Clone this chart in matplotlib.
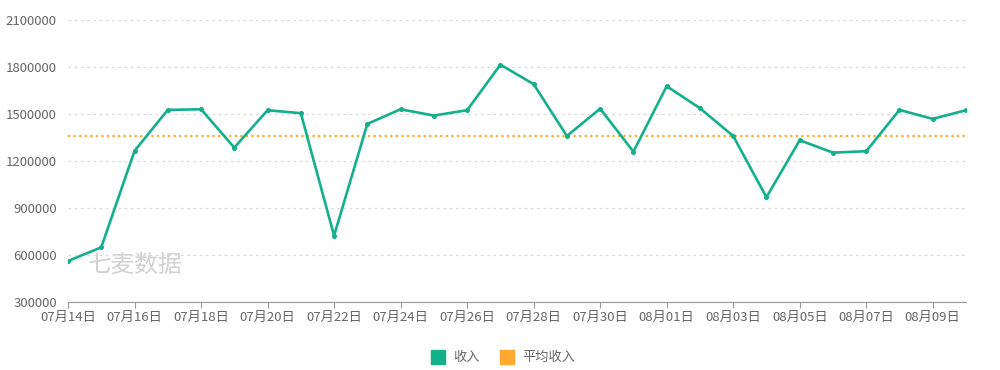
import numpy as np
import pandas as pd
import matplotlib
matplotlib.use("Agg")
import matplotlib.pyplot as plt
from matplotlib.lines import Line2D

plt.rcParams['font.family'] = ['Noto Sans CJK SC', 'DejaVu Sans']

# data
dates = pd.date_range("2024-07-14", "2024-08-10", freq="D")
revenue = [563000, 650000, 1264000, 1525000, 1529000, 1285000, 1523000,
           1504000, 724000, 1436000, 1529000, 1489000, 1523000, 1813000,
           1689000, 1359000, 1533000, 1259000, 1676000, 1536000, 1359000,
           969000, 1332000, 1253000, 1262000, 1525000, 1468000, 1523000]
avg_revenue = 1358000
y_ticks = [300000, 600000, 900000, 1200000, 1500000, 1800000, 2100000]

green = "#13b08b"
orange = "#ffa92e"
grey_text = "#666666"

fig = plt.figure(figsize=(10, 3.7), dpi=100)
ax = fig.add_axes([0.068, 0.183, 0.898, 0.764])

x = np.arange(len(dates))
ax.plot(x, revenue, color=green, linewidth=1.9, marker="o", markersize=2.6, zorder=3)
ax.axhline(avg_revenue, color=orange, linestyle=(0, (1, 1.5)), linewidth=1.6, zorder=2)

ax.set_ylim(300000, 2100000)
ax.set_xlim(0, len(dates) - 1)
ax.set_yticks(y_ticks)
ax.set_yticklabels([str(v) for v in y_ticks])
ax.set_xticks(x[::2])
ax.set_xticklabels([d.strftime("%m月%d日") for d in dates[::2]])

ax.grid(axis="y", color="#d9d9d9", linestyle=(0, (2, 3)), linewidth=0.9)
for s in ["top", "right", "left"]:
    ax.spines[s].set_visible(False)
ax.spines["bottom"].set_color("#999999")
ax.tick_params(axis="y", length=0, labelsize=9.5, colors=grey_text, pad=8)
ax.tick_params(axis="x", length=4, color="#999999", labelsize=9.5, colors=grey_text, pad=2)

# watermark
ax.text(0.022, 0.13, "七麦数据", transform=ax.transAxes, fontsize=17,
        color="#cccccc", alpha=0.9, va="center", ha="left", zorder=1)

handles = [
    Line2D([], [], marker="s", linestyle="none", markersize=10,
           markerfacecolor=green, markeredgecolor=green, label="收入"),
    Line2D([], [], marker="s", linestyle="none", markersize=10,
           markerfacecolor=orange, markeredgecolor=orange, label="平均收入"),
]
fig.legend(handles=handles, loc="center", bbox_to_anchor=(0.5, 0.033), ncol=2,
           frameon=False, fontsize=9.5, labelcolor=grey_text, handletextpad=0.2,
           columnspacing=1.0)

fig.savefig("out.png", dpi=100)
